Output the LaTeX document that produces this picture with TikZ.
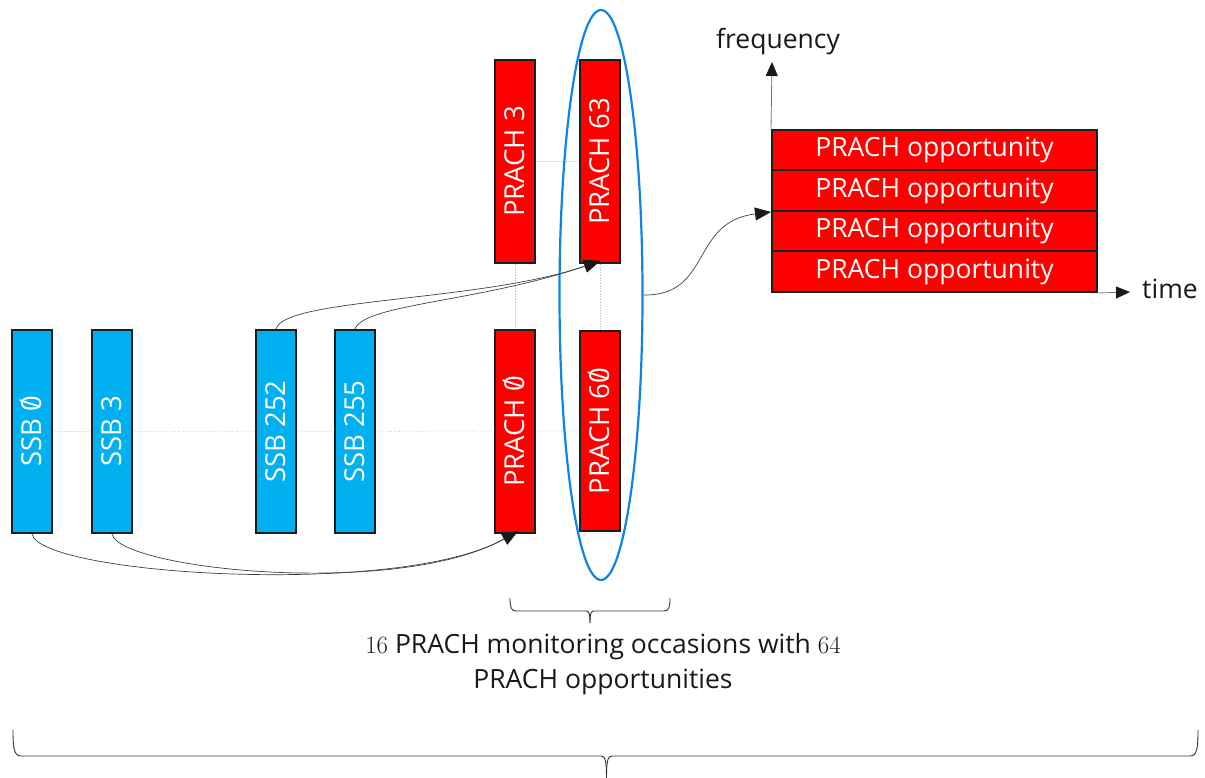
\documentclass[tikz,border=0pt]{standalone}
\usepackage{fontspec}
\setmainfont{Open Sans}
\usetikzlibrary{arrows.meta,shapes.geometric,backgrounds}
\definecolor{ssbblue}{RGB}{0,176,240}
\definecolor{prachred}{RGB}{255,0,0}
\definecolor{ringblue}{RGB}{16,132,230}
\definecolor{edge}{RGB}{30,30,30}
\newcommand\slzero{\ooalign{0\cr\hidewidth\raisebox{0.05em}{\scalebox{0.9}[1.05]{/}}\hidewidth\cr}}
\newcommand\bigtxt{\fontsize{26.5}{31}\selectfont}
\newcommand\boxtxt{\fontsize{27.5}{32}\selectfont}
\tikzset{
  blk/.style={draw=edge, line width=2pt, inner sep=0pt, minimum width=40pt, minimum height=203pt, text=white, font=\boxtxt},
  ssbbox/.style={blk, fill=ssbblue},
  prbox/.style={blk, fill=prachred},
  oppbox/.style={draw=edge, line width=2pt, fill=prachred, inner sep=0pt, minimum width=325pt, minimum height=40.5pt, text=white, font=\bigtxt},
  guide/.style={draw=gray!60, dotted, line width=0.7pt},
  link/.style={draw=black!75, line width=0.7pt, -{Triangle[length=16pt,width=13pt,color=black!90,fill=black!90]}},
  axis/.style={draw=black!55, line width=0.8pt, -{Triangle[length=14pt,width=12pt,color=black!90,fill=black!90]}},
  lbl/.style={font=\bigtxt, text=black!90, inner sep=0pt},
  brc/.style={draw=black!80, line width=0.9pt}
}
\begin{document}
\begin{tikzpicture}[x=1pt,y=-1pt]
\useasboundingbox (0,0) rectangle (1205,778);

% SS blocks
\node[ssbbox] (s0)   at (32,431.5)  {\rotatebox{90}{SSB \slzero}};
\node[ssbbox] (s3)   at (112,431.5) {\rotatebox{90}{SSB 3}};
\node[ssbbox] (s252) at (276,431.5) {\rotatebox{90}{SSB 252}};
\node[ssbbox] (s255) at (355,431.5) {\rotatebox{90}{SSB 255}};

% PRACH occasions
\node[prbox] (p0)  at (515,431.5) {\rotatebox{90}{PRACH \slzero}};
\node[prbox] (p3)  at (515,161.5) {\rotatebox{90}{PRACH 3}};
\node[prbox] (p63) at (600,161.5) {\rotatebox{90}{PRACH 63}};
\node[prbox, minimum height=200pt] (p60) at (600,431) {\rotatebox{90}{PRACH 6\slzero}};

% dotted alignment guides
\begin{pgfonlayer}{background}
  \draw[guide] (s0.center) -- (p60.center);
  \draw[guide] (p3.center) -- (p63.center);
  \draw[guide] (p3.center) -- (p0.center);
  \draw[guide] (p63.center) -- (p60.center);
\end{pgfonlayer}

% group of one monitoring occasion
\node[ellipse, draw=ringblue, line width=2.2pt, minimum width=83pt, minimum height=570pt, inner sep=0pt] (grp) at (601,295) {};

% mapping of SS blocks to PRACH occasions
\draw[link] (s0.south) .. controls (40,575) and (400,598) .. ([xshift=3pt,yshift=3pt]p0.south);
\draw[link] (s3.south) .. controls (120,570) and (400,598) .. ([xshift=3pt,yshift=3pt]p0.south);
\draw[link] (s252.north) .. controls (284,298) and (480,302) .. ([yshift=3pt]p63.south);
\draw[link] (s255.north) .. controls (364,304) and (480,302) .. ([yshift=3pt]p63.south);

% opportunities inside one occasion
\node[oppbox] (o1) at (934.5,150.25) {PRACH opportunity};
\node[oppbox] (o2) at (934.5,190.75) {PRACH opportunity};
\node[oppbox] (o3) at (934.5,231.25) {PRACH opportunity};
\node[oppbox] (o4) at (934.5,271.75) {PRACH opportunity};

\draw[link] (grp.east) .. controls (712,296) and (690,222) .. (o2.south west);

% axes
\coordinate (ftip) at (772,62);
\coordinate (ttip) at (1130,292);
\draw[axis] (o1.north west) -- (ftip);
\draw[axis] (o4.south east) -- (ttip);
\node[lbl] (flbl) at (778,42) {frequency};
\node[lbl] (tlbl) at (1170,289) {time};

% small brace over the occasions
\draw[brc] (510,598) .. controls (510,607) and (511,611) .. (516,611) -- (586,611)
  .. controls (589,611) and (590,613) .. (590,623);
\draw[brc] (670,598) .. controls (670,607) and (669,611) .. (664,611) -- (594,611)
  .. controls (591,611) and (590,613) .. (590,623);
\node[lbl, align=center, font=\fontsize{26.5}{35}\selectfont] (cap) at (603,664)
  {$16$ PRACH monitoring occasions with $64$\\PRACH opportunities};

% large brace over the whole period
\draw[brc] (13,730) .. controls (13,748) and (14,756) .. (21,756) -- (601,756)
  .. controls (605,756) and (606.5,760) .. (606.5,778);
\draw[brc] (1198,730) .. controls (1198,748) and (1197,756) .. (1190,756) -- (612,756)
  .. controls (608,756) and (606.5,760) .. (606.5,778);
\end{tikzpicture}
\end{document}
